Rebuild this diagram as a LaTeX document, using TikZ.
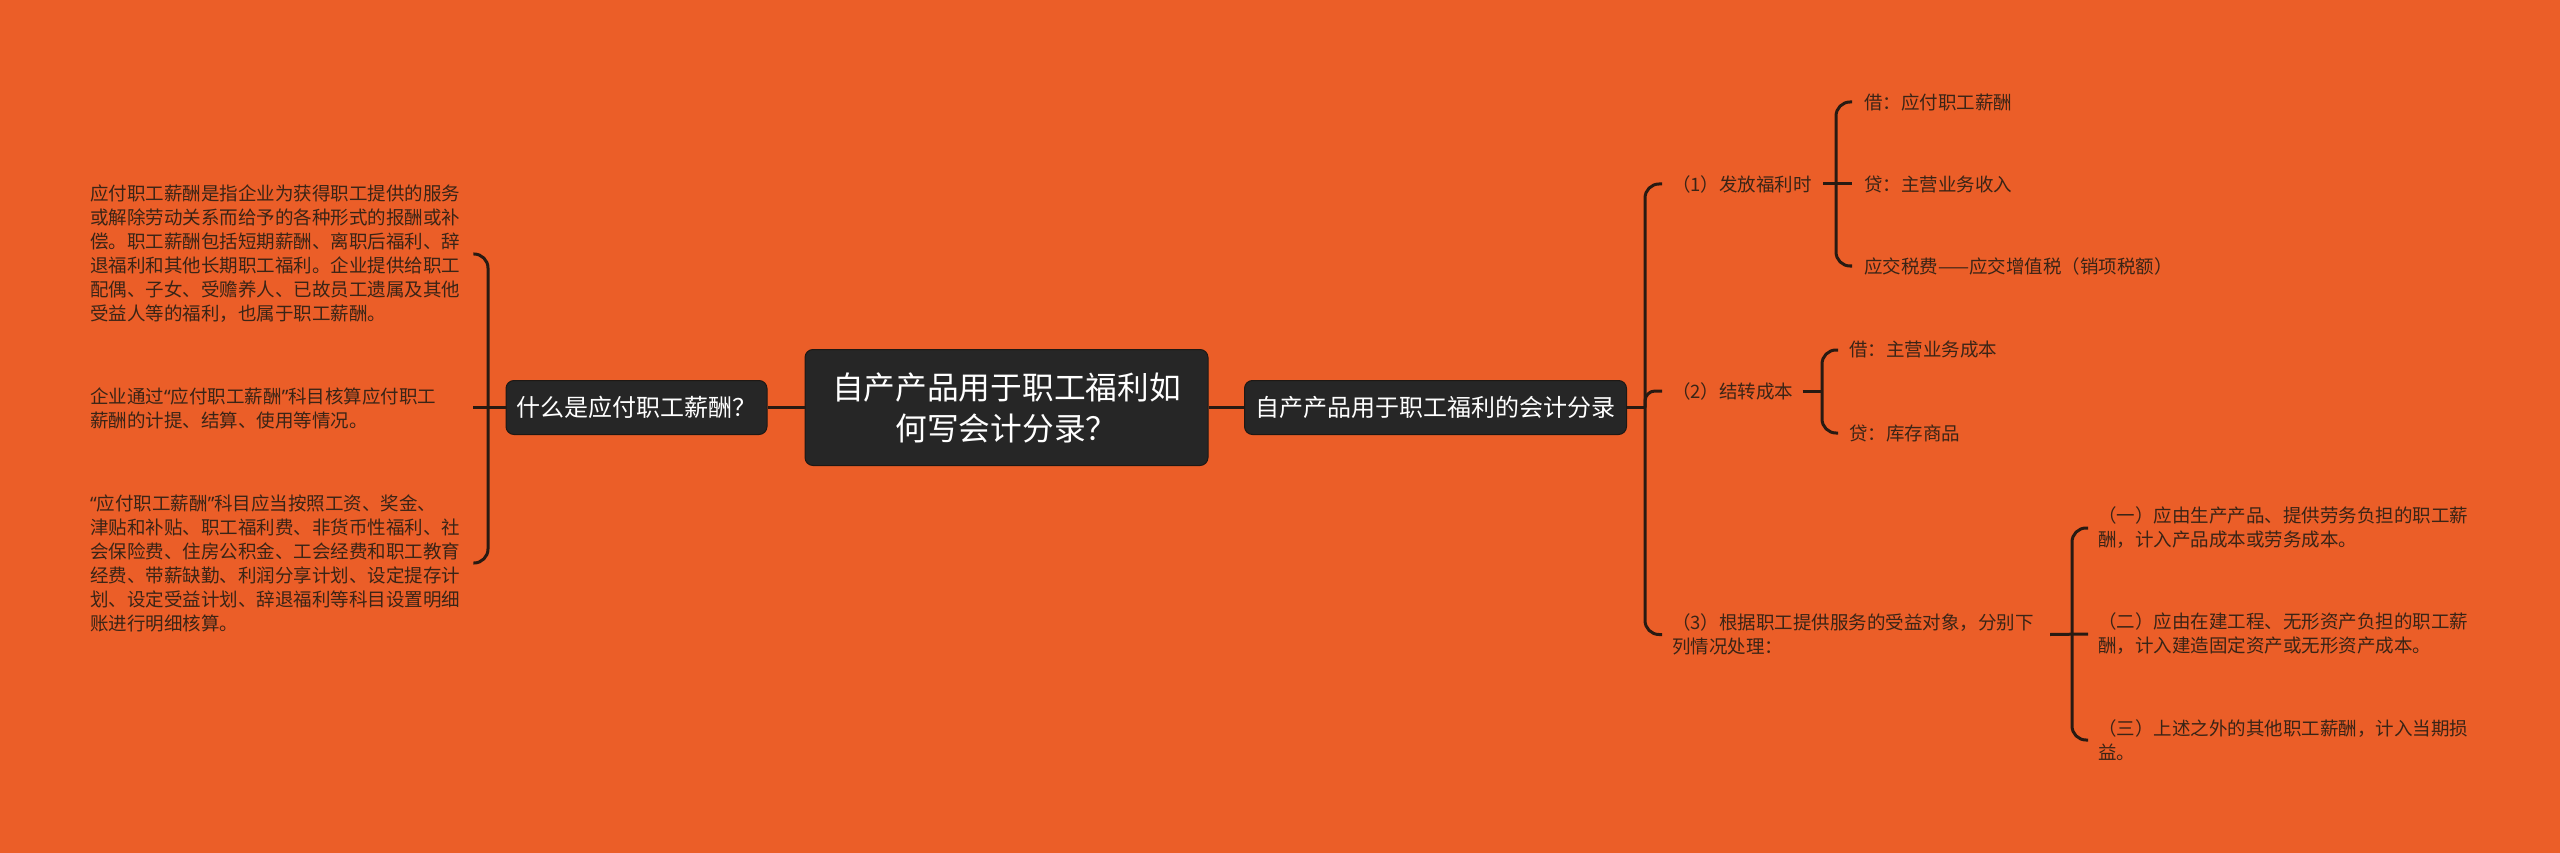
\documentclass[tikz,border=0pt]{standalone}
\usepackage{fontspec}
\setmainfont{Noto Sans CJK SC}
\newfontfamily\latinq{Noto Sans}
\newcommand{\myLq}{{\latinq “}}
\newcommand{\myRq}{{\latinq ”}}
\definecolor{bgc}{RGB}{235,94,40}
\definecolor{nodefill}{RGB}{38,38,38}
\definecolor{nodeedge}{RGB}{30,24,20}
\definecolor{textc}{RGB}{58,36,22}
\definecolor{linec}{RGB}{40,26,18}
\begin{document}
\begin{tikzpicture}[x=1pt,y=-1pt,
  mainbox/.style={fill=nodefill, draw=nodeedge, line width=1pt, rounded corners=8pt, text=white, align=center, inner sep=0pt},
  lbl/.style={inner sep=0pt, anchor=west, text=textc, align=left, font=\fontsize{18.5}{24}\selectfont},
  conn/.style={draw=linec, line width=3pt},
  br/.style={conn, rounded corners=14pt}]
\fill[bgc] (0,0) rectangle (2560,853);
\useasboundingbox (0,0) rectangle (2560,853);

% main nodes
\node[mainbox, minimum width=403pt, minimum height=116pt, font=\fontsize{31.7}{41}\selectfont] (ctr) at (1006.5,407.5) {自产产品用于职工福利如\\何写会计分录？};
\node[mainbox, minimum width=261pt, minimum height=54pt, font=\fontsize{24}{30}\selectfont] (lnode) at (636.5,407.5) {什么是应付职工薪酬？};
\node[mainbox, minimum width=382pt, minimum height=54pt, font=\fontsize{24}{30}\selectfont] (rnode) at (1435.5,407.5) {自产产品用于职工福利的会计分录};

% left texts
\node[lbl, text width=372pt] (lt1) at (90,254) {应付职工薪酬是指企业为获得职工提供的服务\\或解除劳动关系而给予的各种形式的报酬或补\\偿。职工薪酬包括短期薪酬、离职后福利、辞\\退福利和其他长期职工福利。企业提供给职工\\配偶、子女、受赡养人、已故员工遗属及其他\\受益人等的福利，也属于职工薪酬。};
\node[lbl, text width=372pt] (lt2) at (90,408) {企业通过\myLq 应付职工薪酬\myRq 科目核算应付职工\\薪酬的计提、结算、使用等情况。};
\node[lbl, text width=372pt] (lt3) at (90,563) {\myLq 应付职工薪酬\myRq 科目应当按照工资、奖金、\\津贴和补贴、职工福利费、非货币性福利、社\\会保险费、住房公积金、工会经费和职工教育\\经费、带薪缺勤、利润分享计划、设定提存计\\划、设定受益计划、辞退福利等科目设置明细\\账进行明细核算。};

% right level 2
\node[lbl] (n1) at (1672,184) {（1）发放福利时};
\node[lbl] (n2) at (1672,391) {（2）结转成本};
\node[lbl] (n3) at (1672,634.5) {（3）根据职工提供服务的受益对象，分别下\\列情况处理：};

% right level 3
\node[lbl] (a1) at (1864,102) {借：应付职工薪酬};
\node[lbl] (a2) at (1864,184) {贷：主营业务收入};
\node[lbl] (a3) at (1864,266) {应交税费——应交增值税（销项税额）};
\node[lbl] (b1) at (1849,350) {借：主营业务成本};
\node[lbl] (b2) at (1849,433) {贷：库存商品};
\node[lbl] (c1) at (2098,528) {（一）应由生产产品、提供劳务负担的职工薪\\酬，计入产品成本或劳务成本。};
\node[lbl] (c2) at (2098,634) {（二）应由在建工程、无形资产负担的职工薪\\酬，计入建造固定资产或无形资产成本。};
\node[lbl] (c3) at (2098,740) {（三）上述之外的其他职工薪酬，计入当期损\\益。};

% junctions
\coordinate (jl) at (488,407.5);
\coordinate (jm) at (1645,407.5);
\coordinate (j1) at (1836,184);
\coordinate (j2) at (1822,391);
\coordinate (j3) at (2072,634);

% connectors
\draw[conn] (ctr.west) -- (lnode.east);
\draw[conn] (ctr.east) -- (rnode.west);
\draw[conn] (lnode.west) -- ([xshift=11pt]lt2.east |- lnode.west);
\draw[br] ([xshift=11pt]lt1.east) -| (jl) |- ([xshift=11pt]lt3.east);

\draw[conn] (rnode.east) -- (jm);
\draw[br] ([xshift=-10pt]n1.west) -| (jm) |- ([xshift=-10pt]n3.west);
\draw[conn, rounded corners=10pt] (jm) |- ([xshift=-10pt]n2.west);

\draw[conn] ([xshift=11pt]n1.east) -- ([xshift=-12pt]a2.west);
\draw[br] ([xshift=-12pt]a1.west) -| (j1) |- ([xshift=-12pt]a3.west);

\draw[conn] ([xshift=9pt]n2.east) -- (j2);
\draw[br] ([xshift=-11pt]b1.west) -| (j2) |- ([xshift=-11pt]b2.west);

\draw[conn] ([xshift=16pt]n3.east) -- ([xshift=-10pt]c2.west);
\draw[br] ([xshift=-10pt]c1.west) -| (j3) |- ([xshift=-10pt]c3.west);
\end{tikzpicture}
\end{document}
